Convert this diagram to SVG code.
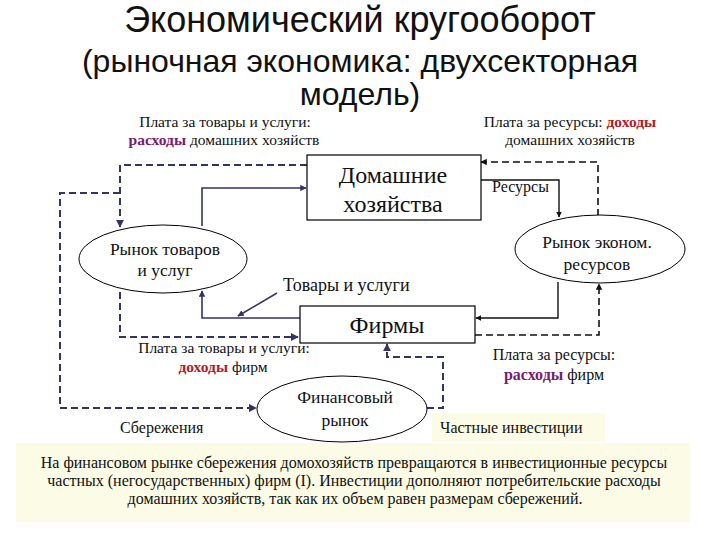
<svg xmlns="http://www.w3.org/2000/svg" width="720" height="540" viewBox="0 0 720 540" font-family="'Liberation Serif','DejaVu Serif',serif">
<style>
.title{font-family:'Liberation Sans','DejaVu Sans',sans-serif;fill:#111;text-anchor:middle}
.s{font-family:'Liberation Serif','Tinos','Noto Serif','DejaVu Serif','FreeSerif',serif;fill:#111}
.c{text-anchor:middle}
.box{fill:#fff;stroke:#000;stroke-width:1.2}
.ell{fill:#fff;stroke:#000;stroke-width:1}
.nd{fill:none;stroke:#333366;stroke-width:2;stroke-dasharray:7,4}
.ns{fill:none;stroke:#333366;stroke-width:1.6}
.kd{fill:none;stroke:#111;stroke-width:1.6;stroke-dasharray:7,4}
.ks{fill:none;stroke:#111;stroke-width:1.4}
.red{fill:#b01c2a;font-weight:bold}
.pur{fill:#7a1a6e;font-weight:bold}
</style>
<defs>
<marker id="an" viewBox="0 0 10 10" refX="9" refY="5" markerWidth="4" markerHeight="4" orient="auto"><path d="M0,0L10,5L0,10z" fill="#333366"/></marker>
<marker id="ak" viewBox="0 0 10 10" refX="9" refY="5" markerWidth="4" markerHeight="4" orient="auto"><path d="M0,0L10,5L0,10z" fill="#111"/></marker>
</defs>
<rect width="720" height="540" fill="#fff"/>
<g id="title">
<text class="title" x="360" y="32" font-size="36">Экономический кругооборот</text>
<text class="title" x="360" y="72" font-size="32">(рыночная экономика: двухсекторная</text>
<text class="title" x="360" y="105" font-size="32">модель)</text>
</g>

<g id="labels" font-size="15.5">
<text class="s c" x="225" y="127">Плата за товары и услуги:</text>
<text class="s c" x="224" y="145"><tspan class="pur">расходы</tspan> домашних хозяйств</text>
<text class="s c" x="570" y="127">Плата за ресурсы: <tspan class="red">доходы</tspan></text>
<text class="s c" x="570" y="145">домашних хозяйств</text>
<text class="s" x="492" y="192" font-size="16">Ресурсы</text>
<text class="s" x="283" y="291" font-size="18">Товары и услуги</text>
<text class="s c" x="224" y="353">Плата за товары и услуги:</text>
<text class="s c" x="223" y="372"><tspan class="red">доходы</tspan> фирм</text>
<text class="s c" x="554" y="360" font-size="16">Плата за ресурсы:</text>
<text class="s c" x="554" y="380" font-size="16"><tspan class="pur">расходы</tspan> фирм</text>
<text class="s" x="120" y="433" font-size="16">Сбережения</text>
</g>

<g id="connectors">
<path class="nd" d="M307,165 H120 V227" marker-end="url(#an)"/>
<path class="nd" d="M120,193 H60 V408 H256" marker-end="url(#an)"/>
<path class="ns" d="M202,226 V188 H306" marker-end="url(#an)"/>
<path class="ns" d="M300,318 H202 V291" marker-end="url(#an)"/>
<path class="nd" d="M120,292 V337 H298" marker-end="url(#an)"/>
<path class="ns" d="M277,293 L238,316" marker-end="url(#an)"/>
<path class="kd" d="M598,216 V162 H481" marker-end="url(#ak)"/>
<path class="ks" d="M480,180 H559 V217" marker-end="url(#ak)"/>
<path class="ks" d="M558,282 V318 H476" marker-end="url(#ak)"/>
<path class="kd" d="M475,335 H599 V284" marker-end="url(#ak)"/>
<path class="nd" d="M427,408 H443 V357 H387 V344" marker-end="url(#an)"/>
</g>

<g id="households">
<rect class="box" x="307" y="155" width="174" height="65"/>
<text class="s c" x="393" y="183" font-size="24">Домашние</text>
<text class="s c" x="393" y="212" font-size="24">хозяйства</text>
</g>
<g id="goods-market">
<ellipse class="ell" cx="163" cy="259" rx="84" ry="34"/>
<text class="s c" x="165" y="255" font-size="17.5">Рынок товаров</text>
<text class="s c" x="165" y="276" font-size="17.5">и услуг</text>
</g>
<g id="resource-market">
<ellipse class="ell" cx="600" cy="249" rx="85" ry="34"/>
<text class="s c" x="597" y="248" font-size="17.5">Рынок эконом.</text>
<text class="s c" x="597" y="270" font-size="17.5">ресурсов</text>
</g>
<g id="firms">
<rect class="box" x="300" y="306" width="175" height="37"/>
<text class="s c" x="387" y="333" font-size="24">Фирмы</text>
</g>
<g id="financial-market">
<ellipse class="ell" cx="342" cy="409" rx="85" ry="33"/>
<text class="s c" x="345" y="403" font-size="17.5">Финансовый</text>
<text class="s c" x="345" y="426" font-size="17.5">рынок</text>
</g>
<g id="investment-label">
<rect x="432" y="413" width="173" height="29" fill="#fbfbe6"/>
<text class="s" x="440" y="433" font-size="16">Частные инвестиции</text>
</g>
<g id="note">
<rect x="16" y="443" width="674" height="79" fill="#fbfbe6"/>
<text class="s c" x="354" y="468" font-size="16">На финансовом рынке сбережения домохозяйств превращаются в инвестиционные ресурсы</text>
<text class="s c" x="354" y="486" font-size="16">частных (негосударственных) фирм (I). Инвестиции  дополняют потребительские расходы</text>
<text class="s c" x="355" y="504" font-size="16">домашних хозяйств, так как  их объем равен размерам сбережений.</text>
</g>
</svg>
